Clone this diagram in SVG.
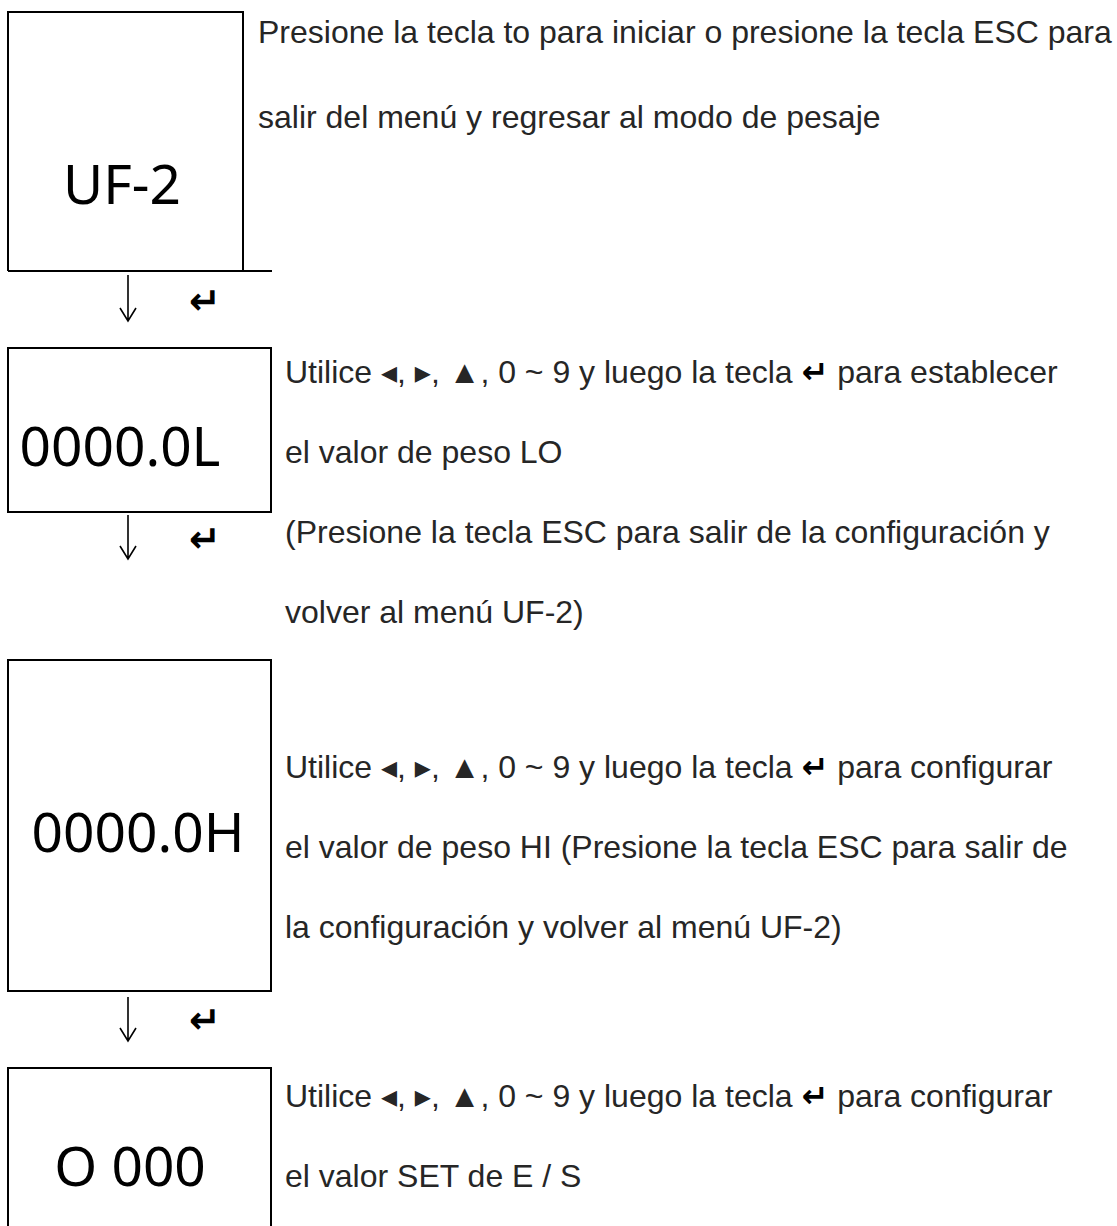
<svg xmlns="http://www.w3.org/2000/svg" width="1117" height="1226" viewBox="0 0 1117 1226">
<style>
  .box { fill: none; stroke: #000; stroke-width: 2; }
  .disp { font-family: "Noto Sans", "Open Sans", sans-serif; font-size: 55px; fill: #000; }
  .desc { font-family: "Liberation Sans", Arial, "DejaVu Sans", sans-serif; font-size: 32px; fill: #262626; }
  .ret { font-family: "DejaVu Sans", sans-serif; font-weight: bold; fill: #000; }
  .conn { fill: none; stroke: #000; stroke-width: 1.6; }
</style>
<rect width="1117" height="1226" fill="#fff"/>
<g id="node-uf2">
  <path class="box" d="M8,271 V12 H243 V271 M8,271 H272"/>
  <text class="disp" x="122" y="204" text-anchor="middle">UF-2</text>
  <text class="desc" x="258" y="43">Presione la tecla to para iniciar o presione la tecla ESC para</text>
  <text class="desc" x="258" y="128">salir del menú y regresar al modo de pesaje</text>
</g>
<g id="node-lo">
  <rect class="box" x="8" y="348" width="263" height="164"/>
  <text class="disp" x="120" y="466" text-anchor="middle">0000.0L</text>
  <text class="desc" x="285" y="383">Utilice ◂, ▸, ▲, 0 ~ 9 y luego la tecla <tspan class="ret" font-size="32">↵</tspan> para establecer</text>
  <text class="desc" x="285" y="463">el valor de peso LO</text>
  <text class="desc" x="285" y="543">(Presione la tecla ESC para salir de la configuración y</text>
  <text class="desc" x="285" y="623">volver al menú UF-2)</text>
</g>
<g id="node-hi">
  <rect class="box" x="8" y="660" width="263" height="331"/>
  <text class="disp" x="138" y="852" text-anchor="middle">0000.0H</text>
  <text class="desc" x="285" y="778">Utilice ◂, ▸, ▲, 0 ~ 9 y luego la tecla <tspan class="ret" font-size="32">↵</tspan> para configurar</text>
  <text class="desc" x="285" y="858">el valor de peso HI (Presione la tecla ESC para salir de</text>
  <text class="desc" x="285" y="938">la configuración y volver al menú UF-2)</text>
</g>
<g id="node-set">
  <path class="box" d="M8,1230 V1068 H271 V1230"/>
  <text class="disp" x="130" y="1186" text-anchor="middle">O  000</text>
  <text class="desc" x="285" y="1107">Utilice ◂, ▸, ▲, 0 ~ 9 y luego la tecla <tspan class="ret" font-size="32">↵</tspan> para configurar</text>
  <text class="desc" x="285" y="1187">el valor SET de E / S</text>
</g>
<g id="connectors">
  <path class="conn" d="M128,275 V321 M120,308 L128,321 L136,308"/>
  <text class="ret" font-size="38" x="205" y="314" text-anchor="middle">↵</text>
  <path class="conn" d="M128,515 V559 M120,546 L128,559 L136,546"/>
  <text class="ret" font-size="38" x="205" y="552" text-anchor="middle">↵</text>
  <path class="conn" d="M128,997 V1041 M120,1028 L128,1041 L136,1028"/>
  <text class="ret" font-size="38" x="205" y="1033" text-anchor="middle">↵</text>
</g>
</svg>
